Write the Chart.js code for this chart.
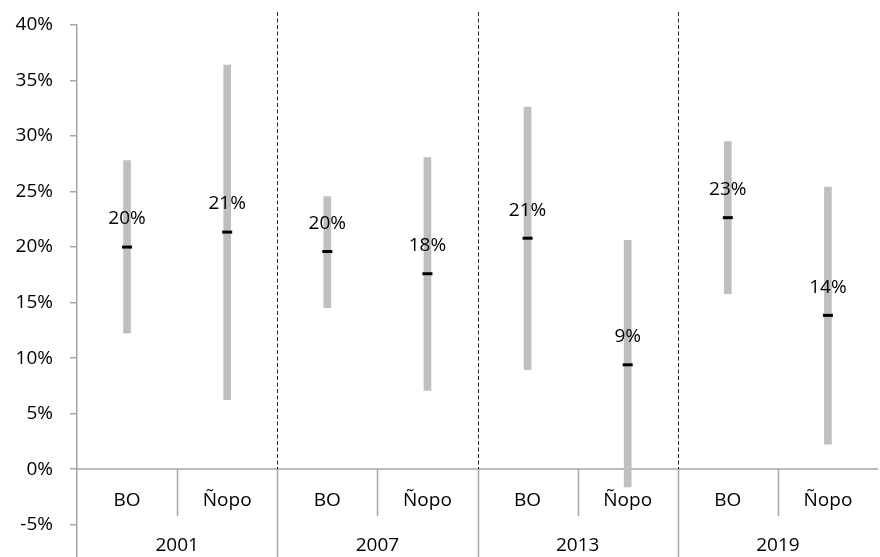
<!DOCTYPE html>
<html>
<head>
<meta charset="utf-8">
<script src="https://cdn.jsdelivr.net/npm/chart.js@4"></script>
<style>
  body { margin: 0; background: #fff; overflow: hidden; }
  #wrap { width: 886px; height: 566px; }
</style>
</head>
<body>
<div id="wrap"><canvas id="chart"></canvas></div>
<script>
const years = ['2001', '2007', '2013', '2019']
const methods = ['BO', 'Ñopo']
// low / high end of each gray range, and the point estimate (in %)
const lowValues = [12.25, 6.25, 14.55, 7.1, 8.95, -1.6, 15.8, 2.25]
const highValues = [27.8, 36.4, 24.55, 28.05, 32.6, 20.6, 29.5, 25.4]
const pointValues = [20.0, 21.35, 19.6, 17.6, 20.8, 9.4, 22.65, 13.85]
const yTicks = [-5, 0, 5, 10, 15, 20, 25, 30, 35, 40]

const categories = years.flatMap(() => methods)
const FONT = 'Open Sans'
const FONT_SIZE = 19
const axisGray = '#A6A6A6'

// draws the excel style category axis at 0% and the dashed year separators
const axisPlugin = {
    id: 'axisPlugin',
    beforeDatasetsDraw(chart) {
        const ctx = chart.ctx
        const x = chart.scales.x
        const y = chart.scales.y
        const area = chart.chartArea
        const y0 = Math.round(y.getPixelForValue(0))
        ctx.save()
        ctx.strokeStyle = axisGray
        ctx.lineWidth = 1.5
        ctx.beginPath()
        ctx.moveTo(area.left, y0)
        ctx.lineTo(area.right, y0)
        ctx.stroke()
        for (let i = 1; i < categories.length; i++) {
            const bx = Math.round((x.getPixelForValue(i - 1) + x.getPixelForValue(i)) / 2) + 0.5
            const isYear = i % methods.length === 0
            ctx.strokeStyle = axisGray
            ctx.lineWidth = 1.5
            ctx.setLineDash([])
            ctx.beginPath()
            ctx.moveTo(bx, y0)
            ctx.lineTo(bx, isYear ? area.bottom : y0 + 47)
            ctx.stroke()
            if (isYear) {
                ctx.strokeStyle = '#222'
                ctx.lineWidth = 1
                ctx.setLineDash([4, 2.5])
                ctx.beginPath()
                ctx.moveTo(bx, area.top - 13)
                ctx.lineTo(bx, y0)
                ctx.stroke()
            }
        }
        ctx.setLineDash([])
        ctx.fillStyle = '#000'
        ctx.font = FONT_SIZE + 'px "' + FONT + '"'
        ctx.textAlign = 'center'
        ctx.textBaseline = 'middle'
        categories.forEach((c, i) => {
            ctx.fillText(c, x.getPixelForValue(i), y0 + 32)
        })
        years.forEach((yr, g) => {
            const cx = (x.getPixelForValue(g * 2) + x.getPixelForValue(g * 2 + 1)) / 2
            ctx.fillText(yr, cx, y0 + 77)
        })
        ctx.restore()
    },
    afterDatasetsDraw(chart) {
        const ctx = chart.ctx
        const meta = chart.getDatasetMeta(1)
        ctx.save()
        ctx.fillStyle = '#000'
        ctx.font = FONT_SIZE + 'px "' + FONT + '"'
        ctx.textAlign = 'center'
        ctx.textBaseline = 'middle'
        meta.data.forEach((pt, i) => {
            ctx.fillText(Math.round(pointValues[i]) + '%', pt.x, pt.y - 28)
        })
        ctx.restore()
    }
}

new Chart(document.getElementById('chart'), {
    type: 'bar',
    data: {
        labels: categories,
        datasets: [{
            type: 'bar',
            data: lowValues.map((l, i) => [l, highValues[i]]),
            backgroundColor: '#BFBFBF',
            barThickness: 7,
            order: 1
        }, {
            type: 'line',
            data: pointValues,
            showLine: false,
            pointStyle: 'line',
            pointRadius: 5,
            pointBorderWidth: 3,
            borderColor: '#000',
            pointBorderColor: '#000',
            order: 0
        }]
    },
    options: {
        responsive: true,
        maintainAspectRatio: false,
        animation: false,
        layout: { padding: { top: 25, left: 0, right: 0, bottom: 0 } },
        plugins: { legend: { display: false }, tooltip: { enabled: false } },
        scales: {
            x: { display: false, offset: true },
            y: {
                min: -8,
                max: 40,
                afterBuildTicks: s => { s.ticks = yTicks.map(v => ({ value: v })) },
                afterFit: s => {
                    s.width = 77
                    s.paddingTop = 0
                    s.paddingBottom = 0
                },
                border: { color: axisGray, width: 1.5 },
                grid: { drawOnChartArea: false, tickLength: 7, color: axisGray, lineWidth: 1.5 },
                ticks: {
                    padding: 17,
                    color: '#000',
                    font: { family: FONT, size: FONT_SIZE },
                    callback: v => v + '%'
                }
            }
        }
    },
    plugins: [axisPlugin]
})
</script>
</body>
</html>
